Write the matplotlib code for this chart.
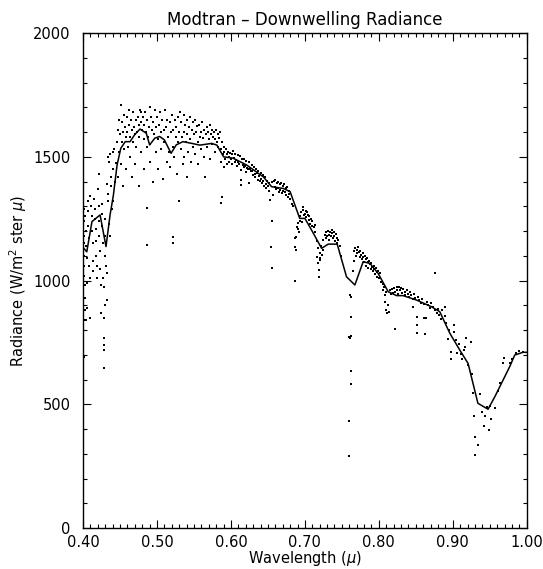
import matplotlib
matplotlib.use("Agg")
import matplotlib.pyplot as plt
from matplotlib.ticker import MultipleLocator, FormatStrFormatter

# ---- model curve (Modtran) ----
line_wl = [0.401, 0.405, 0.412, 0.423, 0.431, 0.4365, 0.441, 0.446, 0.451, 0.457,
           0.4635, 0.470, 0.477, 0.4855, 0.490, 0.497, 0.5035, 0.510, 0.519, 0.526,
           0.535, 0.547, 0.558, 0.574, 0.581, 0.590, 0.603, 0.621, 0.6437, 0.655,
           0.6707, 0.680, 0.693, 0.700, 0.709, 0.7226, 0.7315, 0.7437, 0.7563, 0.7676,
           0.7788, 0.788, 0.799, 0.8126, 0.824, 0.8328, 0.851, 0.8712, 0.8824, 0.896,
           0.9095, 0.9207, 0.934, 0.9477, 0.9568, 0.977, 0.9838, 0.995, 1.000]
line_rad = [1130, 1116, 1238, 1265, 1137, 1265, 1345, 1467, 1534, 1561,
            1561, 1590, 1612, 1595, 1548, 1575, 1582, 1568, 1514, 1548,
            1561, 1554, 1547, 1554, 1547, 1500, 1494, 1467, 1419, 1379,
            1372, 1359, 1251, 1251, 1204, 1130, 1147, 1147, 1015, 982,
            1076, 1069, 1029, 955, 939, 939, 921, 894, 874, 787,
            719, 665, 504, 480, 530, 652, 699, 710, 710]

dots_blue = [
    (0.401, 1290), (0.401, 1240), (0.401, 1180), (0.401, 1150), (0.401, 1100), (0.401, 1060),
    (0.401, 1020), (0.402, 980), (0.402, 930), (0.402, 880), (0.401, 840), (0.401, 690),
    (0.403, 1260), (0.404, 1200), (0.404, 1140), (0.405, 1090), (0.405, 990), (0.405, 890),
    (0.404, 840), (0.406, 1320), (0.407, 1280), (0.407, 1220), (0.408, 1170), (0.408, 1060),
    (0.409, 1010), (0.409, 850), (0.410, 1340), (0.411, 1300), (0.412, 1260), (0.412, 1200),
    (0.413, 1150), (0.413, 1080), (0.414, 1040), (0.415, 1330), (0.416, 1290), (0.416, 1250),
    (0.417, 1210), (0.418, 1160), (0.418, 1100), (0.419, 1060), (0.419, 1010), (0.420, 1370),
    (0.421, 1300), (0.421, 1240), (0.422, 1430), (0.422, 1180), (0.423, 1120), (0.423, 1045),
    (0.424, 980), (0.424, 870), (0.425, 1310), (0.426, 1270), (0.426, 1220), (0.427, 1150),
    (0.427, 1010), (0.428, 974), (0.428, 848), (0.428, 768), (0.428, 740), (0.428, 720),
    (0.428, 646), (0.429, 1250), (0.430, 1180), (0.430, 1100), (0.430, 900), (0.431, 1060),
    (0.432, 921), (0.432, 1030), (0.433, 1390), (0.434, 1350), (0.434, 1320), (0.434, 1500),
    (0.435, 1480), (0.435, 1230), (0.436, 1180), (0.437, 1510), (0.438, 1420), (0.438, 1380),
    (0.439, 1290), (0.440, 1520), (0.440, 1450), (0.441, 1320), (0.442, 1530), (0.443, 1400),
    (0.444, 1475),
]
dots_peak = [
    (0.446, 1560), (0.447, 1610), (0.447, 1420), (0.448, 1650), (0.449, 1520), (0.450, 1590),
    (0.451, 1709), (0.451, 1470), (0.452, 1640), (0.453, 1560), (0.454, 1600), (0.454, 1380),
    (0.455, 1670), (0.456, 1530), (0.457, 1620), (0.458, 1580), (0.458, 1450), (0.459, 1660),
    (0.460, 1600), (0.461, 1540), (0.462, 1690), (0.462, 1630), (0.463, 1500), (0.464, 1580),
    (0.465, 1650), (0.466, 1610), (0.466, 1420), (0.467, 1560), (0.468, 1680), (0.469, 1620),
    (0.470, 1590), (0.470, 1470), (0.471, 1650), (0.472, 1540), (0.473, 1600), (0.474, 1660),
    (0.475, 1630), (0.475, 1380), (0.476, 1580), (0.477, 1690), (0.478, 1640), (0.479, 1682),
    (0.479, 1520), (0.480, 1610), (0.481, 1660), (0.482, 1570), (0.482, 1450), (0.483, 1630),
    (0.484, 1680), (0.485, 1600), (0.486, 1293), (0.486, 1143), (0.486, 1540), (0.487, 1650),
    (0.488, 1580), (0.489, 1620), (0.490, 1702), (0.490, 1480), (0.491, 1550), (0.492, 1660),
    (0.493, 1610), (0.494, 1400), (0.495, 1640), (0.496, 1590), (0.497, 1690), (0.498, 1520),
    (0.499, 1620), (0.500, 1660), (0.501, 1570), (0.502, 1450), (0.503, 1630), (0.504, 1680),
    (0.505, 1600), (0.506, 1530), (0.507, 1650), (0.508, 1410), (0.509, 1610), (0.510, 1560),
    (0.511, 1689), (0.512, 1620), (0.513, 1480), (0.514, 1650), (0.515, 1580), (0.516, 1520),
    (0.517, 1640), (0.518, 1460), (0.519, 1600), (0.520, 1670), (0.521, 1176), (0.521, 1152),
    (0.521, 1540), (0.522, 1610), (0.523, 1500), (0.524, 1650), (0.525, 1580), (0.526, 1620),
    (0.527, 1430), (0.528, 1660), (0.529, 1560), (0.530, 1321), (0.530, 1600), (0.531, 1682),
    (0.532, 1530), (0.533, 1640), (0.534, 1580), (0.535, 1470),
    (0.536, 1669), (0.537, 1600), (0.537, 1500), (0.538, 1630), (0.539, 1560), (0.540, 1420),
    (0.540, 1650), (0.541, 1590), (0.542, 1520), (0.543, 1620), (0.544, 1660), (0.545, 1570),
    (0.546, 1480), (0.547, 1610), (0.548, 1640), (0.549, 1540), (0.550, 1590), (0.551, 1650),
    (0.552, 1510), (0.553, 1600), (0.554, 1625), (0.555, 1560), (0.556, 1470), (0.557, 1630),
    (0.558, 1580), (0.559, 1600), (0.560, 1530), (0.561, 1640), (0.562, 1575), (0.563, 1500),
    (0.564, 1610), (0.565, 1420), (0.566, 1590), (0.567, 1620), (0.568, 1540), (0.569, 1600),
    (0.570, 1570), (0.571, 1630), (0.572, 1490), (0.573, 1590), (0.574, 1610), (0.575, 1550),
    (0.576, 1580), (0.577, 1600), (0.578, 1520), (0.579, 1570), (0.580, 1610), (0.581, 1560),
    (0.582, 1590), (0.583, 1540), (0.584, 1575), (0.585, 1600), (0.586, 1530), (0.587, 1312),
    (0.587, 1480), (0.588, 1337), (0.588, 1560), (0.589, 1510), (0.590, 1540), (0.590, 1460),
    (0.591, 1520), (0.592, 1490), (0.593, 1530), (0.594, 1510), (0.595, 1470), (0.596, 1520),
    (0.597, 1500), (0.598, 1480), (0.599, 1515), (0.600, 1490),
]
dots_red = [
    (0.601, 1510), (0.602, 1470), (0.603, 1525), (0.604, 1495), (0.605, 1480), (0.606, 1512),
    (0.607, 1488), (0.608, 1462), (0.609, 1508), (0.610, 1478), (0.611, 1471), (0.612, 1503),
    (0.613, 1447), (0.614, 1406), (0.614, 1386), (0.615, 1492), (0.616, 1466), (0.617, 1458),
    (0.618, 1489), (0.619, 1461), (0.620, 1437), (0.621, 1484), (0.622, 1456), (0.623, 1452),
    (0.624, 1478), (0.625, 1393), (0.626, 1452), (0.627, 1443), (0.628, 1468), (0.629, 1441),
    (0.630, 1428), (0.631, 1459), (0.632, 1431), (0.633, 1417), (0.634, 1452), (0.635, 1433),
    (0.636, 1407), (0.637, 1444), (0.638, 1421), (0.639, 1402), (0.640, 1434), (0.641, 1411),
    (0.642, 1393), (0.643, 1428), (0.644, 1402), (0.645, 1383), (0.646, 1418), (0.647, 1391),
    (0.648, 1373), (0.649, 1404), (0.650, 1381), (0.651, 1363), (0.652, 1392), (0.653, 1325),
    (0.654, 1135), (0.655, 1242), (0.655, 1050), (0.656, 1397), (0.657, 1345), (0.658, 1403),
    (0.659, 1377), (0.660, 1407), (0.661, 1368), (0.662, 1393), (0.663, 1372), (0.664, 1398),
    (0.665, 1358), (0.666, 1388), (0.667, 1367), (0.668, 1392), (0.669, 1352), (0.670, 1383),
    (0.671, 1362), (0.672, 1388), (0.673, 1357), (0.674, 1373), (0.675, 1347), (0.676, 1378),
    (0.677, 1337), (0.678, 1363), (0.679, 1348), (0.680, 1330), (0.682, 1310),
    (0.684, 1300), (0.686, 1170), (0.687, 1136), (0.687, 998), (0.688, 1123), (0.688, 1176),
    (0.689, 1216), (0.690, 1232), (0.691, 1210), (0.692, 1197), (0.693, 1260), (0.694, 1240),
    (0.695, 1275), (0.696, 1237), (0.697, 1298), (0.698, 1285), (0.699, 1265), (0.700, 1270),
    (0.701, 1280), (0.702, 1255), (0.703, 1275), (0.704, 1265), (0.705, 1245), (0.706, 1260),
    (0.707, 1230), (0.708, 1250), (0.709, 1220), (0.710, 1240), (0.712, 1215), (0.713, 1224),
    (0.714, 1195), (0.716, 1160), (0.717, 1096), (0.718, 1069), (0.718, 1130), (0.719, 1042),
    (0.719, 1015), (0.720, 1082), (0.720, 1110), (0.721, 1090), (0.722, 1140), (0.723, 1105),
    (0.724, 1125), (0.725, 1165), (0.727, 1185), (0.728, 1170), (0.729, 1195), (0.730, 1178),
    (0.731, 1200), (0.732, 1185), (0.733, 1165), (0.734, 1197), (0.735, 1180), (0.736, 1205),
    (0.737, 1190), (0.738, 1170), (0.739, 1195), (0.740, 1180), (0.741, 1160), (0.742, 1188),
    (0.743, 1172), (0.744, 1150), (0.745, 1165), (0.747, 1140), (0.749, 1100),
    (0.761, 941), (0.762, 935), (0.763, 854), (0.761, 768), (0.762, 775), (0.760, 770),
    (0.763, 636), (0.762, 582), (0.760, 432), (0.760, 291),
    (0.765, 1040), (0.766, 1080), (0.767, 1120), (0.768, 1130), (0.769, 1100), (0.770, 1125),
    (0.771, 1110), (0.772, 1135), (0.773, 1115), (0.774, 1095), (0.775, 1120), (0.776, 1105),
    (0.777, 1085), (0.778, 1110), (0.779, 1095), (0.780, 1075), (0.781, 1100), (0.782, 1085),
    (0.783, 1060), (0.784, 1090), (0.785, 1075), (0.786, 1050), (0.787, 1080), (0.788, 1065),
    (0.789, 1045), (0.790, 1070), (0.791, 1055), (0.792, 1040), (0.793, 1060), (0.794, 1045),
    (0.795, 1025), (0.796, 1050), (0.797, 1035), (0.798, 1015), (0.799, 1040), (0.800, 1010),
]
dots_nir = [
    (0.801, 1030), (0.803, 995), (0.805, 985), (0.806, 960), (0.807, 975), (0.808, 940),
    (0.809, 915), (0.810, 955), (0.810, 880), (0.811, 868), (0.812, 900), (0.8135, 874),
    (0.815, 960), (0.816, 945), (0.818, 965), (0.819, 950), (0.820, 970), (0.8216, 803),
    (0.822, 955), (0.824, 975), (0.825, 960), (0.826, 945), (0.827, 975), (0.829, 960),
    (0.830, 970), (0.832, 950), (0.833, 965), (0.835, 955), (0.836, 940), (0.838, 960),
    (0.839, 945), (0.841, 935), (0.842, 955), (0.844, 940), (0.846, 925), (0.8464, 894),
    (0.847, 945), (0.849, 930), (0.851, 786), (0.851, 854), (0.852, 820), (0.853, 935),
    (0.855, 920), (0.857, 910), (0.859, 925), (0.861, 848), (0.861, 905), (0.863, 782),
    (0.8644, 847), (0.865, 915), (0.867, 900), (0.869, 890), (0.871, 910), (0.873, 895),
    (0.8757, 1032), (0.876, 880), (0.878, 870), (0.880, 885), (0.882, 860), (0.884, 845),
    (0.885, 881), (0.889, 857), (0.890, 894), (0.891, 830), (0.8937, 762), (0.895, 800),
    (0.8977, 712), (0.898, 682), (0.9014, 820), (0.902, 790), (0.904, 760), (0.906, 706),
    (0.908, 745), (0.911, 703), (0.913, 682), (0.915, 720), (0.917, 733), (0.9185, 766),
    (0.921, 659), (0.924, 753), (0.926, 622),
    (0.9275, 544), (0.9287, 454), (0.930, 367), (0.9306, 295), (0.9347, 335), (0.9374, 543),
    (0.940, 470), (0.942, 412), (0.944, 454), (0.946, 490), (0.9486, 396), (0.951, 493),
    (0.952, 442), (0.9568, 485), (0.961, 555), (0.964, 587), (0.968, 665), (0.9693, 686),
    (0.977, 665), (0.980, 683), (0.985, 708), (0.990, 715), (0.995, 712),
]

all_dots = dots_blue + dots_peak + dots_red + dots_nir
dot_wl = [p[0] for p in all_dots]
dot_rad = [p[1] for p in all_dots]

fig = plt.figure(figsize=(5.43, 5.69), dpi=100)
ax = fig.add_axes([0.153, 0.072, 0.817, 0.870])

ax.scatter(dot_wl, dot_rad, s=2.2, marker='s', color='black', linewidths=0)
ax.plot(line_wl, line_rad, color='black', linewidth=1.1)

ax.set_xlim(0.40, 1.00)
ax.set_ylim(0, 2000)
ax.xaxis.set_major_locator(MultipleLocator(0.1))
ax.xaxis.set_minor_locator(MultipleLocator(0.01))
ax.yaxis.set_major_locator(MultipleLocator(500))
ax.yaxis.set_minor_locator(MultipleLocator(100))
ax.xaxis.set_major_formatter(FormatStrFormatter('%.2f'))
ax.tick_params(which='both', direction='in', top=True, right=True, labelsize=10.5, width=0.8)
ax.tick_params(which='major', length=6)
ax.tick_params(which='minor', length=3)
ax.tick_params(axis='x', pad=5)
ax.tick_params(axis='y', pad=9)
for s in ax.spines.values():
    s.set_linewidth(1.0)

ax.set_title('Modtran \u2013 Downwelling Radiance', fontsize=12, pad=6)
ax.set_xlabel('Wavelength ($\\mu$)', fontsize=10.5, labelpad=-1)
ax.set_ylabel('Radiance (W/m$^2$ ster $\\mu$)', fontsize=10.5, labelpad=3)

fig.savefig('out.png', dpi=100)
